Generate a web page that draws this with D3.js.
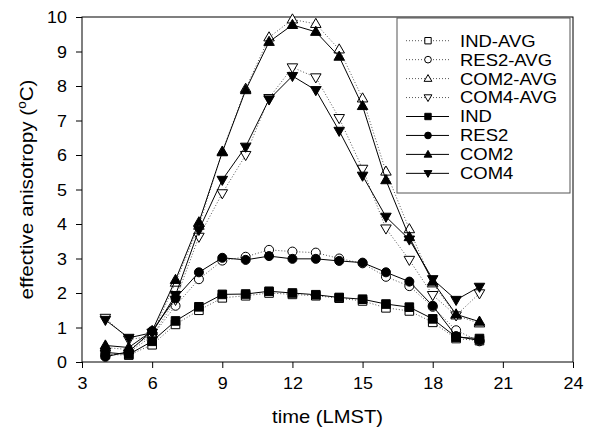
<!DOCTYPE html>
<html>
<head>
<meta charset="utf-8">
<script src="https://cdn.jsdelivr.net/npm/d3@7"></script>
<style>
  body { margin: 0; background: #fff; }
  text { font-family: "Liberation Sans", Arial, sans-serif; fill: #000; }
</style>
</head>
<body>
<svg id="chart" width="592" height="433"></svg>
<script>
(function() {

  var hours = [4, 5, 6, 7, 8, 9, 10, 11, 12, 13, 14, 15, 16, 17, 18, 19, 20];

  var indAvg  = [0.22, 0.20, 0.50, 1.09, 1.50, 1.86, 1.92, 2.00, 1.96, 1.92, 1.85, 1.77, 1.57, 1.48, 1.15, 0.68, 0.62];
  var res2Avg = [0.20, 0.28, 0.75, 1.63, 2.40, 2.94, 3.05, 3.25, 3.20, 3.17, 3.00, 2.86, 2.47, 2.20, 1.60, 0.92, 0.60];
  var com2Avg = [0.42, 0.36, 0.80, 2.30, 3.95, 6.10, 7.92, 9.41, 9.93, 9.80, 9.06, 7.64, 5.52, 3.85, 2.28, 1.35, 1.12];
  var com4Avg = [1.28, 0.65, 0.75, 1.80, 3.63, 4.89, 6.00, 7.65, 8.54, 8.25, 7.07, 5.60, 3.87, 2.96, 1.94, 1.35, 1.99];

  var ind  = [0.28, 0.22, 0.60, 1.19, 1.60, 1.96, 1.97, 2.05, 2.00, 1.95, 1.87, 1.82, 1.68, 1.59, 1.25, 0.72, 0.68];
  var res2 = [0.15, 0.30, 0.90, 1.85, 2.60, 3.02, 2.96, 3.07, 2.99, 2.99, 2.93, 2.88, 2.60, 2.33, 1.63, 0.75, 0.62];
  var com2 = [0.48, 0.42, 0.90, 2.38, 4.05, 6.08, 7.88, 9.28, 9.77, 9.57, 8.85, 7.42, 5.27, 3.62, 2.33, 1.38, 1.17];
  var com4 = [1.22, 0.70, 0.85, 1.94, 3.83, 5.28, 6.24, 7.61, 8.29, 7.88, 6.70, 5.40, 4.21, 3.55, 2.40, 1.80, 2.18];

  var xTicks = [3, 6, 9, 12, 15, 18, 21, 24];
  var yTicks = [0, 1, 2, 3, 4, 5, 6, 7, 8, 9, 10];

  var series = [
    { name: 'IND-AVG',  values: indAvg,  shape: 'square',   filled: false },
    { name: 'RES2-AVG', values: res2Avg, shape: 'circle',   filled: false },
    { name: 'COM2-AVG', values: com2Avg, shape: 'triangle', filled: false },
    { name: 'COM4-AVG', values: com4Avg, shape: 'down',     filled: false },
    { name: 'IND',      values: ind,     shape: 'square',   filled: true },
    { name: 'RES2',     values: res2,    shape: 'circle',   filled: true },
    { name: 'COM2',     values: com2,    shape: 'triangle', filled: true },
    { name: 'COM4',     values: com4,    shape: 'down',     filled: true }
  ];

  var left = 82, right = 573, top = 17, bottom = 362;
  var stretch = 1.12;

  var xScale = d3.scaleLinear().domain([3, 24]).range([left, right]);
  var yScale = d3.scaleLinear().domain([0, 10]).range([bottom, top]);

  var svg = d3.select('#chart');

  function symbolPath(shape, scale) {
    var s = scale || 1;
    if (shape === 'square') return d3.symbol().type(d3.symbolSquare).size(74 * s)();
    if (shape === 'circle') return d3.symbol().type(d3.symbolCircle).size(64 * s)();
    return d3.symbol().type(d3.symbolTriangle).size(48 * s)();
  }

  function markerTransform(shape, x, y) {
    if (shape === 'triangle') return 'translate(' + x + ',' + (y + 0.5) + ')';
    if (shape === 'down') return 'translate(' + x + ',' + (y - 0.5) + ') rotate(180)';
    return 'translate(' + x + ',' + y + ')';
  }

  // axes
  var xAxis = svg.append('g')
      .attr('transform', 'translate(0,' + bottom + ')')
      .call(d3.axisBottom(xScale).tickValues(xTicks).tickSize(6).tickSizeOuter(0));
  xAxis.select('.domain').remove();
  xAxis.selectAll('line').attr('stroke', '#000');
  xAxis.selectAll('text')
      .attr('font-size', 16)
      .attr('font-family', '"Liberation Sans", Arial, sans-serif')
      .attr('dy', '0.75em')
      .attr('y', 15)
      .attr('transform', 'scale(' + stretch + ',1)')
      .attr('x', 0);

  var yAxis = svg.append('g')
      .attr('transform', 'translate(' + left + ',0)')
      .call(d3.axisLeft(yScale).tickValues(yTicks).tickSize(6).tickSizeOuter(0));
  yAxis.select('.domain').remove();
  yAxis.selectAll('line').attr('stroke', '#000');
  yAxis.selectAll('text')
      .attr('font-size', 16)
      .attr('font-family', '"Liberation Sans", Arial, sans-serif')
      .attr('x', -15 / stretch)
      .attr('dy', '0.36em')
      .attr('transform', 'scale(' + stretch + ',1)');

  // frame
  svg.append('rect')
      .attr('x', left)
      .attr('y', top)
      .attr('width', right - left)
      .attr('height', bottom - top)
      .attr('fill', 'none')
      .attr('stroke', '#000')
      .attr('stroke-width', 1);

  // lines
  var lineGenerator = d3.line()
      .x(function(d, i) { return xScale(hours[i]); })
      .y(function(d) { return yScale(d); });

  var plot = svg.append('g');

  series.forEach(function(s) {
    plot.append('path')
        .attr('d', lineGenerator(s.values))
        .attr('fill', 'none')
        .attr('stroke', s.filled ? '#000' : '#555')
        .attr('stroke-width', 1)
        .attr('stroke-dasharray', s.filled ? null : '1,2');

    plot.selectAll(null)
        .data(s.values)
        .enter().append('path')
        .attr('d', symbolPath(s.shape))
        .attr('transform', function(d, i) { return markerTransform(s.shape, xScale(hours[i]), yScale(d)); })
        .attr('fill', s.filled ? '#000' : '#fff')
        .attr('stroke', '#000')
        .attr('stroke-width', 1);
  });

  // legend
  var legend = svg.append('g');
  legend.append('rect')
      .attr('x', 397)
      .attr('y', 18)
      .attr('width', 173)
      .attr('height', 175)
      .attr('fill', '#fff')
      .attr('stroke', '#555')
      .attr('stroke-width', 1);

  var rows = legend.selectAll('.row')
      .data(series)
      .enter().append('g')
      .attr('class', 'row')
      .attr('transform', function(d, i) { return 'translate(0,' + (40.7 + i * 18.95) + ')'; });

  rows.append('line')
      .attr('x1', 406)
      .attr('x2', 449)
      .attr('stroke', function(d) { return d.filled ? '#000' : '#555'; })
      .attr('stroke-dasharray', function(d) { return d.filled ? null : '1,2'; });

  rows.append('path')
      .attr('d', function(d) { return symbolPath(d.shape, 0.55); })
      .attr('transform', function(d) { return markerTransform(d.shape, 428, 0); })
      .attr('fill', function(d) { return d.filled ? '#000' : '#fff'; })
      .attr('stroke', '#000')
      .attr('stroke-width', 1);

  rows.append('text')
      .attr('transform', 'translate(460,0) scale(' + stretch + ',1)')
      .attr('dy', '0.36em')
      .attr('font-size', 16.5)
      .text(function(d) { return d.name; });

  // axis titles
  svg.append('text')
      .attr('transform', 'translate(' + ((left + right) / 2) + ',423) scale(' + stretch + ',1)')
      .attr('text-anchor', 'middle')
      .attr('font-size', 18)
      .text('time (LMST)');

  var yTitle = svg.append('text')
      .attr('transform', 'translate(33,' + ((top + bottom) / 2) + ') rotate(-90) scale(' + stretch + ',1)')
      .attr('text-anchor', 'middle')
      .attr('font-size', 18.5);
  yTitle.append('tspan').text('effective anisotropy (');
  yTitle.append('tspan').attr('font-size', 12).attr('dy', -7).text('o');
  yTitle.append('tspan').attr('dy', 7).text('C)');

})();
</script>
</body>
</html>
